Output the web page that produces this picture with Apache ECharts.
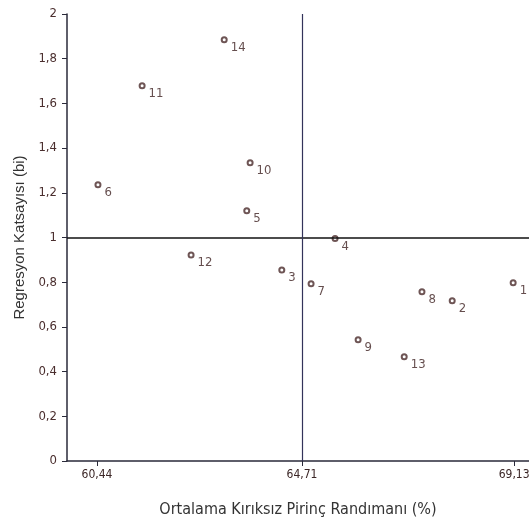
<!DOCTYPE html>
<html>
<head>
<meta charset="utf-8">
<script src="https://cdn.jsdelivr.net/npm/echarts@6/dist/echarts.min.js"></script>
<style>
  html, body { margin: 0; padding: 0; background: #fff; }
  #chart { width: 529px; height: 526px; }
</style>
</head>
<body>
<div id="chart"></div>
<script>
// genotype numbers and their (mean yield, regression coefficient)
const genotypes = ["1", "2", "3", "4", "5", "6", "7", "8", "9", "10", "11", "12", "13", "14"];
const randiman = [69.11, 67.84, 64.29, 65.40, 63.56, 60.46, 64.90, 67.21, 65.88, 63.63, 61.38, 62.40, 66.84, 63.09];
const katsayi  = [0.797, 0.717, 0.855, 0.995, 1.12, 1.236, 0.793, 0.757, 0.542, 1.335, 1.679, 0.922, 0.466, 1.885];

const xTicks = [60.44, 64.71, 69.13];
const xMean = 64.71;
const bMean = 1;

const narrow = "'Liberation Sans Narrow', 'DejaVu Sans Condensed', sans-serif";
const comma = v => String(v).replace(".", ",");

const chart = echarts.init(document.getElementById("chart"));

chart.setOption({
    backgroundColor: "#fff",
    animation: false,
    grid: { left: 67, top: 14, right: 0, bottom: 65, outerBoundsMode: "none", containLabel: false },

    xAxis: {
        type: "value",
        min: 59.815,
        max: 69.44,
        name: "Ortalama Kırıksız Pirinç Randımanı (%)",
        nameLocation: "middle",
        nameGap: 41,
        nameTextStyle: { fontFamily: narrow, fontSize: 16, color: "#333" },
        splitLine: { show: false },
        axisLine: { lineStyle: { color: "#2a2a3a", width: 1.5 } },
        axisTick: { customValues: xTicks, length: 5, lineStyle: { color: "#2a2a3a" } },
        axisLabel: {
            customValues: xTicks,
            formatter: v => comma(v),
            fontFamily: narrow, fontSize: 12, color: "#3b2626", margin: 8
        }
    },

    yAxis: {
        type: "value",
        min: 0,
        max: 2,
        interval: 0.2,
        name: "Regresyon Katsayısı (bi)",
        nameLocation: "middle",
        nameGap: 40,
        nameRotate: 90,
        nameTextStyle: { fontFamily: "'Liberation Sans', Arial, sans-serif", fontSize: 15, color: "#333" },
        splitLine: { show: false },
        axisLine: { show: true, lineStyle: { color: "#2a2a3a", width: 1.5 } },
        axisTick: { show: true, length: 5, lineStyle: { color: "#2a2a3a" } },
        axisLabel: {
            formatter: v => comma(Math.round(v * 10) / 10),
            fontFamily: narrow, fontSize: 13, color: "#4a2e2e", margin: 10
        }
    },

    series: [{
        type: "scatter",
        data: genotypes.map((g, i) => ({ name: g, value: [randiman[i], katsayi[i]] })),
        symbol: "emptyCircle",
        symbolSize: 5,
        itemStyle: { color: "#4a2a2a", borderColor: "#4a2a2a", borderWidth: 1 },
        label: {
            show: true,
            formatter: p => p.name,
            position: "right",
            offset: [-2, 8],
            fontFamily: narrow,
            fontSize: 13,
            color: "#3e2222"
        },
        markLine: {
            silent: true,
            symbol: "none",
            label: { show: false },
            data: [
                { yAxis: bMean, lineStyle: { color: "#111", width: 1.5, type: "solid" } },
                { xAxis: xMean, lineStyle: { color: "#33335a", width: 1.2, type: "solid" } }
            ]
        }
    }]
});
</script>
</body>
</html>
